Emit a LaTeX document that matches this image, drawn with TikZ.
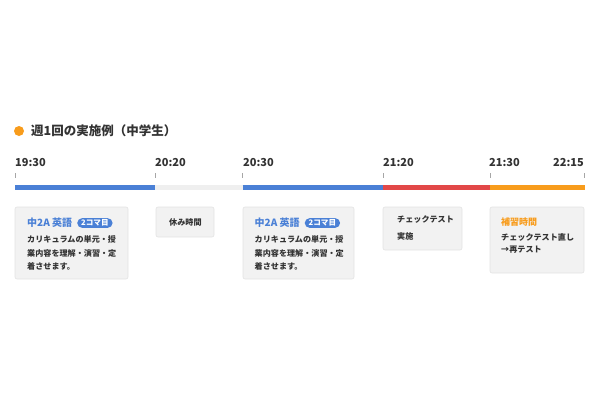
\documentclass[tikz,border=0pt]{standalone}
\usepackage{fontspec}
\setmainfont{Noto Sans CJK JP}
\usetikzlibrary{positioning}
\definecolor{cblue}{HTML}{4A80D6}
\definecolor{cred}{HTML}{E24848}
\definecolor{corange}{HTML}{F89C1C}
\definecolor{cgraybar}{HTML}{EFEFEF}
\definecolor{ctext}{HTML}{333333}
\definecolor{cboxfill}{HTML}{F2F2F2}
\definecolor{cboxline}{HTML}{E2E2E2}
\tikzset{
  card/.style={draw=cboxline, fill=cboxfill, rounded corners=2pt, line width=0.6pt},
  txt/.style={anchor=west, inner sep=0pt, text=ctext, font=\bfseries\fontsize{8.1}{10}\selectfont},
  timelbl/.style={anchor=west, inner sep=0pt, text=ctext, font=\bfseries\fontsize{11}{13}\selectfont},
  tick/.style={draw=gray!70, line width=0.6pt},
  seg/.style={line width=5pt},
  ctitle/.style={anchor=west, inner sep=0pt, font=\bfseries\fontsize{10}{12}\selectfont},
  badge/.style={anchor=west, fill=cblue, text=white, rounded corners=5pt, inner xsep=4pt, inner ysep=1.5pt, font=\bfseries\fontsize{7.6}{8.5}\selectfont}
}
\begin{document}
\begin{tikzpicture}[x=1pt,y=-1pt]
\useasboundingbox (0,0) rectangle (600,400);
% title
\fill[corange] (19,131) circle (5);
\node[anchor=west, inner sep=0pt, text=ctext, font=\bfseries\fontsize{12.5}{14}\selectfont] (title) at (31,131) {週1回の実施例（中学生）};
% time labels
\node[timelbl] (t1) at (15,163) {19:30};
\node[timelbl] (t2) at (155,163) {20:20};
\node[timelbl] (t3) at (243,163) {20:30};
\node[timelbl] (t4) at (383,163) {21:20};
\node[timelbl] (t5) at (489,163) {21:30};
\node[timelbl] (t6) at (553,163) {22:15};
% ticks
\foreach \x/\n in {15/a,155/b,242.5/c,383/d,490/e,584.5/f}{
  \coordinate (k\n) at (\x,173);
  \coordinate (m\n) at (\x,187.5);
  \draw[tick] (\x,173) -- (\x,178);
}
% bar
\draw[seg, cblue] (ma) -- (mb);
\draw[seg, cgraybar] (mb) -- (mc);
\draw[seg, cblue] (mc) -- (md);
\draw[seg, cred] (md) -- (me);
\draw[seg, corange] (me) -- (mf);
% cards
\draw[card] (15,207) rectangle (128,279);
\draw[card] (156,207) rectangle (214,237);
\draw[card] (243,207) rectangle (354,279);
\draw[card] (383,207) rectangle (462,250);
\draw[card] (490,207) rectangle (584,273);
% card 1
\node[ctitle, text=cblue] (c1t) at (27,223) {中2A 英語};
\node[badge] (c1b) at (77,223) {2コマ目};
\node[txt] (c1l1) at (27,239.5) {カリキュラムの単元・授};
\node[txt] (c1l2) at (27,253) {業内容を理解・演習・定};
\node[txt] (c1l3) at (27,266.5) {着させます。};
% card 2
\node[txt] (c2) at (169,222) {休み時間};
% card 3
\node[ctitle, text=cblue] (c3t) at (254.5,223) {中2A 英語};
\node[badge] (c3b) at (304.5,223) {2コマ目};
\node[txt] (c3l1) at (254.5,239.5) {カリキュラムの単元・授};
\node[txt] (c3l2) at (254.5,253) {業内容を理解・演習・定};
\node[txt] (c3l3) at (254.5,266.5) {着させます。};
% card 4
\node[txt] (c4l1) at (397,220) {チェックテスト};
\node[txt] (c4l2) at (397,236) {実施};
% card 5
\node[ctitle, text=corange, font=\bfseries\fontsize{9}{11}\selectfont] (c5t) at (501,222) {補習時間};
\node[txt] (c5l1) at (501,237.5) {チェックテスト直し};
\node[txt] (c5l2) at (501,249.5) {→再テスト};
\end{tikzpicture}
\end{document}
